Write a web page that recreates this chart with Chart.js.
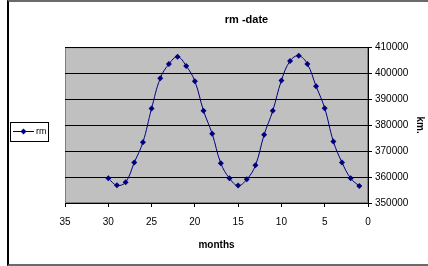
<!DOCTYPE html>
<html>
<head>
<meta charset="utf-8">
<script src="https://cdn.jsdelivr.net/npm/chart.js@4"></script>
<style>
  body { margin: 0; background: #fff; }
  #wrap { position: relative; width: 428px; height: 266px; }
  #frame { position: absolute; left: 7px; top: 0; right: 0; bottom: 0;
           border-left: 2px solid #000; border-top: 2px solid #6a6a6a; border-bottom: 2px solid #6a6a6a; pointer-events: none; }
</style>
</head>
<body>
<div id="wrap">
  <canvas id="rmChart" width="428" height="266"></canvas>
  <div id="frame"></div>
</div>
<script>
// months before date, and distance (km)
var months = [30, 29, 28, 27, 26, 25, 24, 23, 22, 21, 20, 19, 18, 17, 16,
              15, 14, 13, 12, 11, 10, 9, 8, 7, 6, 5, 4, 3, 2, 1];
var rm = [359500, 356800, 358000, 365600, 373400, 386400, 398000, 403500, 406300, 402800,
          396900, 385500, 376700, 365300, 359500, 356700, 359100, 364500, 376300, 385500,
          397200, 404700, 406700, 403500, 395000, 386500, 373700, 365600, 359500, 356500];
var xTicks = [0, 5, 10, 15, 20, 25, 30, 35];
var yTicks = [350000, 360000, 370000, 380000, 390000, 400000, 410000];

var FONT = "'Liberation Sans', Arial, sans-serif";
var navy = "#000080";

var pts = months.map(function (m, i) { return { x: m, y: rm[i] }; });

var plotBack = {
  id: 'plotBack',
  beforeDraw: function (chart) {
    var a = chart.chartArea, ctx = chart.ctx;
    ctx.save();
    ctx.fillStyle = "#c0c0c0";
    ctx.fillRect(a.left, a.top, a.right - a.left, a.bottom - a.top);
    ctx.strokeStyle = "#808080";
    ctx.lineWidth = 1;
    ctx.strokeRect(a.left + 0.5, a.top + 0.5, a.right - a.left - 1, a.bottom - a.top - 1);
    ctx.restore();
  }
};

// excel style legend: box with a line and diamond marker
var boxLegend = {
  id: 'boxLegend',
  afterDraw: function (chart) {
    var ctx = chart.ctx;
    var ds = chart.data.datasets[0];
    var x = 10, y = 122, w = 38, h = 19, cy = y + h / 2;
    ctx.save();
    ctx.fillStyle = "#fff";
    ctx.fillRect(x, y, w, h);
    ctx.strokeStyle = "#000";
    ctx.lineWidth = 1;
    ctx.strokeRect(x + 0.5, y + 0.5, w, h);
    ctx.strokeStyle = navy;
    ctx.beginPath();
    ctx.moveTo(x + 3, cy);
    ctx.lineTo(x + 24, cy);
    ctx.stroke();
    ctx.fillStyle = navy;
    ctx.beginPath();
    ctx.moveTo(x + 13.5, cy - 3);
    ctx.lineTo(x + 16.5, cy);
    ctx.lineTo(x + 13.5, cy + 3);
    ctx.lineTo(x + 10.5, cy);
    ctx.closePath();
    ctx.fill();
    ctx.fillStyle = "#000";
    ctx.font = "9px " + FONT;
    ctx.textBaseline = "middle";
    ctx.fillText(ds.label, x + 26, cy + 0.5);
    ctx.restore();
  }
};

var ctxR = document.getElementById("rmChart").getContext("2d");
var rmChart = new Chart(ctxR, {
  type: 'line',
  data: {
    datasets: [{
      label: 'rm',
      data: pts,
      borderColor: navy,
      backgroundColor: navy,
      borderWidth: 1,
      pointStyle: 'rectRot',
      pointRadius: 3,
      pointBorderWidth: 0,
      tension: 0.4,
      fill: false
    }]
  },
  options: {
    responsive: false,
    animation: false,
    layout: { padding: { left: 65, right: 0, top: 0, bottom: 14 } },
    plugins: {
      legend: { display: false },
      tooltip: { enabled: false },
      title: {
        display: true,
        text: 'rm -date',
        color: '#000',
        font: { family: FONT, size: 11, weight: 'bold' },
        padding: { top: 13, bottom: 21 }
      }
    },
    scales: {
      x: {
        type: 'linear',
        reverse: true,
        min: 0, max: 35,
        afterBuildTicks: function (s) { s.ticks = xTicks.map(function (v) { return { value: v }; }); },
        afterFit: function (s) { s.height = 49; },
        ticks: { color: '#000', font: { family: FONT, size: 10 }, padding: 9, maxRotation: 0 },
        grid: { drawOnChartArea: false, color: '#000', tickLength: 4 },
        border: { color: '#000', width: 1 },
        title: { display: true, text: 'months', color: '#000', font: { family: FONT, size: 10, weight: 'bold' }, padding: { top: 6, bottom: 1 } }
      },
      y: {
        position: 'right',
        min: 350000, max: 410000,
        afterBuildTicks: function (s) { s.ticks = yTicks.map(function (v) { return { value: v }; }); },
        afterFit: function (s) { s.width = 60; },
        ticks: { color: '#000', font: { family: FONT, size: 10 }, padding: 3,
                 callback: function (v) { return String(v); } },
        grid: { color: '#000', lineWidth: 1, tickLength: 4 },
        border: { color: '#000', width: 1 },
        title: { display: true, text: 'km.', color: '#000', font: { family: FONT, size: 10, weight: 'bold' }, padding: 2 }
      }
    }
  },
  plugins: [plotBack, boxLegend]
});
</script>
</body>
</html>
